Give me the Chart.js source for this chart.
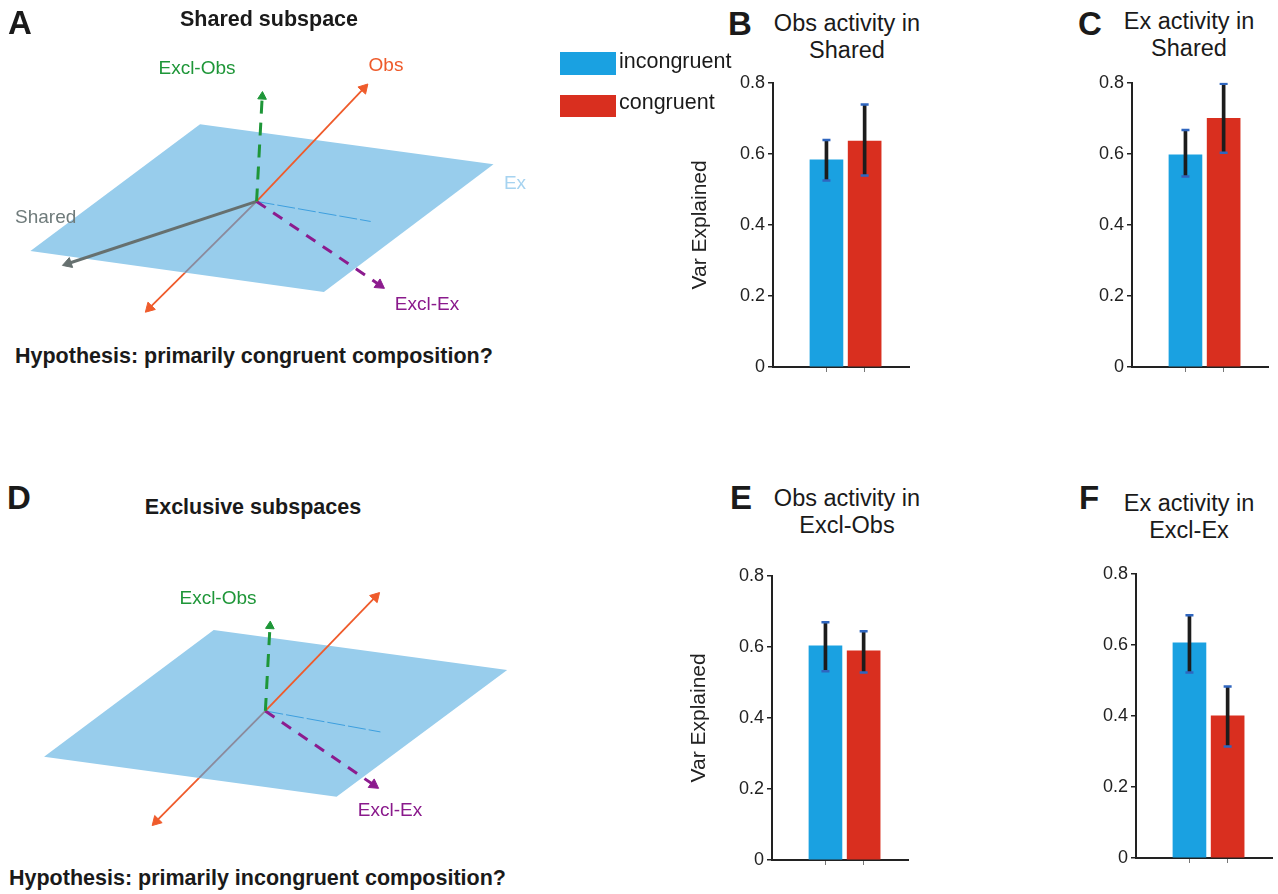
<!DOCTYPE html>
<html>
<head>
<meta charset="utf-8">
<script src="https://cdn.jsdelivr.net/npm/chart.js@4.4.0/dist/chart.umd.min.js"></script>
<style>
body { margin: 0; width: 1278px; height: 894px; overflow: hidden; position: relative; background: #fff;
       font-family: "Liberation Sans", Arial, Helvetica, sans-serif; color: #1a1a1a; }
canvas { position: absolute; }
.c { position: absolute; white-space: nowrap; line-height: 1; transform: translate(-50%, -50%); z-index: 2; }
.l { position: absolute; white-space: nowrap; line-height: 1; transform: translateY(-50%); z-index: 2; }
.letter { font-weight: bold; font-size: 33px; }
.head { font-weight: bold; font-size: 21.5px; }
.ttl { font-size: 23.5px; line-height: 27px; text-align: center; }
.lab { font-size: 19px; }
.sw { position: absolute; width: 56px; height: 23px; }
</style>
</head>
<body>

<div class="c letter" style="left:20px; top:22px;">A</div>
<div class="c letter" style="left:740px; top:23px;">B</div>
<div class="c letter" style="left:1090px; top:23px;">C</div>
<div class="c letter" style="left:19px; top:497px;">D</div>
<div class="c letter" style="left:741px; top:497px;">E</div>
<div class="c letter" style="left:1089px; top:497px;">F</div>

<div class="c head" style="left:269px; top:20px;">Shared subspace</div>
<div class="c head" style="left:253px; top:508px;">Exclusive subspaces</div>
<div class="l head" style="left:15px; top:357px;">Hypothesis: primarily congruent composition?</div>
<div class="l head" style="left:9px; top:879px;">Hypothesis: primarily incongruent composition?</div>

<div class="c ttl" style="left:847px; top:37px;">Obs activity in<br>Shared</div>
<div class="c ttl" style="left:1189px; top:35px;">Ex activity in<br>Shared</div>
<div class="c ttl" style="left:847px; top:512px;">Obs activity in<br>Excl-Obs</div>
<div class="c ttl" style="left:1189px; top:517px;">Ex activity in<br>Excl-Ex</div>

<div class="sw" id="swBlue" style="left:560px; top:52px;"></div>
<div class="l" style="left:619px; top:62px; font-size:21.5px;">incongruent</div>
<div class="sw" id="swRed" style="left:560px; top:95px; height:22px;"></div>
<div class="l" style="left:619px; top:103px; font-size:21.5px;">congruent</div>

<div class="c lab" style="left:197px; top:67px; color:#1e9638;">Excl-Obs</div>
<div class="c lab" style="left:386px; top:64px; color:#ee5a2a;">Obs</div>
<div class="l lab" style="left:15px; top:216px; color:#6f7b7b;">Shared</div>
<div class="c lab" style="left:515px; top:182px; color:#a6d3f0;">Ex</div>
<div class="c lab" style="left:427px; top:303px; color:#8a1a8c;">Excl-Ex</div>
<div class="c lab" style="left:218px; top:597px; color:#1e9638;">Excl-Obs</div>
<div class="c lab" style="left:390px; top:809px; color:#8a1a8c;">Excl-Ex</div>

<canvas id="diagA" width="560" height="300" style="left:0px; top:40px;"></canvas>
<canvas id="diagD" width="560" height="300" style="left:0px; top:560px;"></canvas>
<canvas id="barB" width="228" height="318" style="left:688px; top:69px;"></canvas>
<canvas id="barC" width="193" height="318" style="left:1082px; top:69px;"></canvas>
<canvas id="barE" width="228" height="318" style="left:687px; top:562px;"></canvas>
<canvas id="barF" width="193" height="318" style="left:1086px; top:560px;"></canvas>

<script>
// bar panels, values in order [incongruent, congruent]
const conditions = ['incongruent', 'congruent'];
const xPos = [1, 2];
const yTicks = [0, 0.2, 0.4, 0.6, 0.8];

const obsShared = [0.583, 0.636];
const obsSharedLo = [0.525, 0.539];
const obsSharedHi = [0.639, 0.739];

const exShared = [0.597, 0.700];
const exSharedLo = [0.536, 0.603];
const exSharedHi = [0.667, 0.797];

const obsExclObs = [0.603, 0.589];
const obsExclObsLo = [0.531, 0.528];
const obsExclObsHi = [0.669, 0.644];

const exExclEx = [0.606, 0.400];
const exExclExLo = [0.522, 0.314];
const exExclExHi = [0.683, 0.483];

// schematic vectors, relative to the origin of each sketch (y up)
const planeA = [[-58, 81], [243, 39], [69, -95], [-232, -52]];
const obsAxisA = [[114, 123], [-114, -116]];
const exclObsA = [6, 115];
const sharedA = [-199, -67];
const exclExA = [131, -91];
const projA = [117, -21];

const planeD = [[-53, 85], [248, 43], [73, -90], [-227, -48]];
const obsAxisD = [[117, 124], [-116, -120]];
const exclObsD = [5, 94];
const exclExD = [116, -81];
const projD = [118, -22];

const colBlue = '#1aa1e1';
const colRed = '#d92f1f';
const capBlue = '#2f66bf';
const axisCol = '#222';

document.getElementById('swBlue').style.background = colBlue;
document.getElementById('swRed').style.background = colRed;

Chart.defaults.font.family = '"Liberation Sans", Arial, Helvetica, sans-serif';
Chart.defaults.color = axisCol;

function barPanel(id, vals, lo, hi, yTitle) {
    var yw = yTitle ? 85 : 50;
    var caps = function (arr) {
        return {
            type: 'line',
            data: xPos.map(function (x, i) { return { x: x, y: arr[i] }; }),
            showLine: false,
            pointStyle: 'line',
            pointRadius: 4,
            pointBorderWidth: 2.5,
            pointBorderColor: capBlue,
            order: 0
        };
    };
    new Chart(document.getElementById(id), {
        type: 'bar',
        data: {
            datasets: [
                caps(hi),
                caps(lo),
                {
                    data: xPos.map(function (x, i) { return { x: x, y: [lo[i], hi[i]] }; }),
                    backgroundColor: '#1c1c1c',
                    barThickness: 3,
                    grouped: false,
                    order: 1
                },
                {
                    label: 'Var Explained',
                    data: xPos.map(function (x, i) { return { x: x, y: vals[i] }; }),
                    backgroundColor: [colBlue, colRed],
                    barThickness: 33,
                    grouped: false,
                    order: 2
                }
            ]
        },
        options: {
            animation: false,
            responsive: false,
            events: [],
            layout: { padding: { top: 10, left: 0, right: 0, bottom: 0 } },
            plugins: { legend: { display: false }, tooltip: { enabled: false } },
            scales: {
                x: {
                    type: 'linear',
                    min: -0.4,
                    max: 3.175,
                    offset: false,
                    afterBuildTicks: function (s) { s.ticks = xPos.map(function (v) { return { value: v }; }); },
                    afterFit: function (s) { s.height = 20; },
                    ticks: { display: false },
                    grid: { drawOnChartArea: false, offset: false, tickLength: 5, color: '#777', lineWidth: 1 },
                    border: { display: true, color: axisCol, width: 2 }
                },
                y: {
                    min: 0,
                    max: 0.8,
                    afterBuildTicks: function (s) { s.ticks = yTicks.map(function (v) { return { value: v }; }); },
                    afterFit: function (s) { s.width = yw; },
                    ticks: { font: { size: 18 }, color: axisCol, padding: 3 },
                    grid: { drawOnChartArea: false, tickLength: 5, color: axisCol, lineWidth: 1.5 },
                    border: { display: true, color: axisCol, width: 2 },
                    title: { display: !!yTitle, text: yTitle || '', font: { size: 21 }, color: axisCol, padding: 0 }
                }
            }
        }
    });
}

function pt(p) { return { x: p[0], y: p[1] }; }

// where the ray origin->tip leaves the plane through edge a-b
function crossing(tip, a, b) {
    var ex = b[0] - a[0], ey = b[1] - a[1];
    var det = tip[0] * (-ey) - tip[1] * (-ex);
    var s = (tip[0] * (a[1]) - tip[1] * (a[0])) / det;
    return [a[0] + ex * s, a[1] + ey * s];
}

function seg(from, to, color, width, dash, head, order) {
    var end = to, rot = 0;
    if (head) {
        var dx = to[0] - from[0], dy = to[1] - from[1], len = Math.hypot(dx, dy);
        end = [to[0] - dx / len * head, to[1] - dy / len * head];
        rot = Math.atan2(dx, dy) * 180 / Math.PI;
    }
    return {
        data: [pt(from), pt(end)],
        showLine: true,
        borderColor: color,
        borderWidth: width,
        borderDash: dash || [],
        pointRadius: [0, head || 0],
        pointStyle: 'triangle',
        pointRotation: rot,
        pointBackgroundColor: color,
        pointBorderColor: color,
        pointBorderWidth: 1,
        clip: false,
        order: order
    };
}

function sketch(id, s, xr, yr) {
    var orange = '#ef5b2b';
    var o = [0, 0];
    var cross = crossing(s.obs[1], s.plane[3], s.plane[2]);
    var sets = [
        seg(cross, s.obs[1], orange, 1.8, null, 6, 9),
        {
            data: s.plane.concat([s.plane[0]]).map(pt),
            showLine: true,
            fill: 'shape',
            backgroundColor: '#98cdec',
            borderColor: '#98cdec',
            borderWidth: 0,
            pointRadius: 0,
            order: 8
        },
        seg(o, s.proj, '#3d9fdf', 1, [18, 3], 0, 7),
        seg(o, cross, '#8b8a9c', 1.8, null, 0, 6),
        seg(o, s.exclEx, '#8c1b8e', 3, [11, 9], 6, 4),
        seg(o, s.obs[0], orange, 1.8, null, 6, 3),
        seg(o, s.exclObs, '#1e9638', 3, [13, 9], 5, 2)
    ];
    if (s.shared) sets.push(seg(o, s.shared, '#66706f', 3, null, 6, 5));
    new Chart(document.getElementById(id), {
        type: 'scatter',
        data: { datasets: sets },
        options: {
            animation: false,
            responsive: false,
            events: [],
            elements: { line: { tension: 0 } },
            layout: { padding: 0 },
            plugins: { legend: { display: false }, tooltip: { enabled: false } },
            scales: {
                x: { display: false, min: xr[0], max: xr[1] },
                y: { display: false, min: yr[0], max: yr[1] }
            }
        }
    });
}

sketch('diagA', { plane: planeA, obs: obsAxisA, exclObs: exclObsA, shared: sharedA, exclEx: exclExA, proj: projA },
       [-256, 304], [-138, 162]);
sketch('diagD', { plane: planeD, obs: obsAxisD, exclObs: exclObsD, exclEx: exclExD, proj: projD },
       [-265, 295], [-149, 151]);

barPanel('barB', obsShared, obsSharedLo, obsSharedHi, 'Var Explained');
barPanel('barC', exShared, exSharedLo, exSharedHi);
barPanel('barE', obsExclObs, obsExclObsLo, obsExclObsHi, 'Var Explained');
barPanel('barF', exExclEx, exExclExLo, exExclExHi);
</script>
</body>
</html>
